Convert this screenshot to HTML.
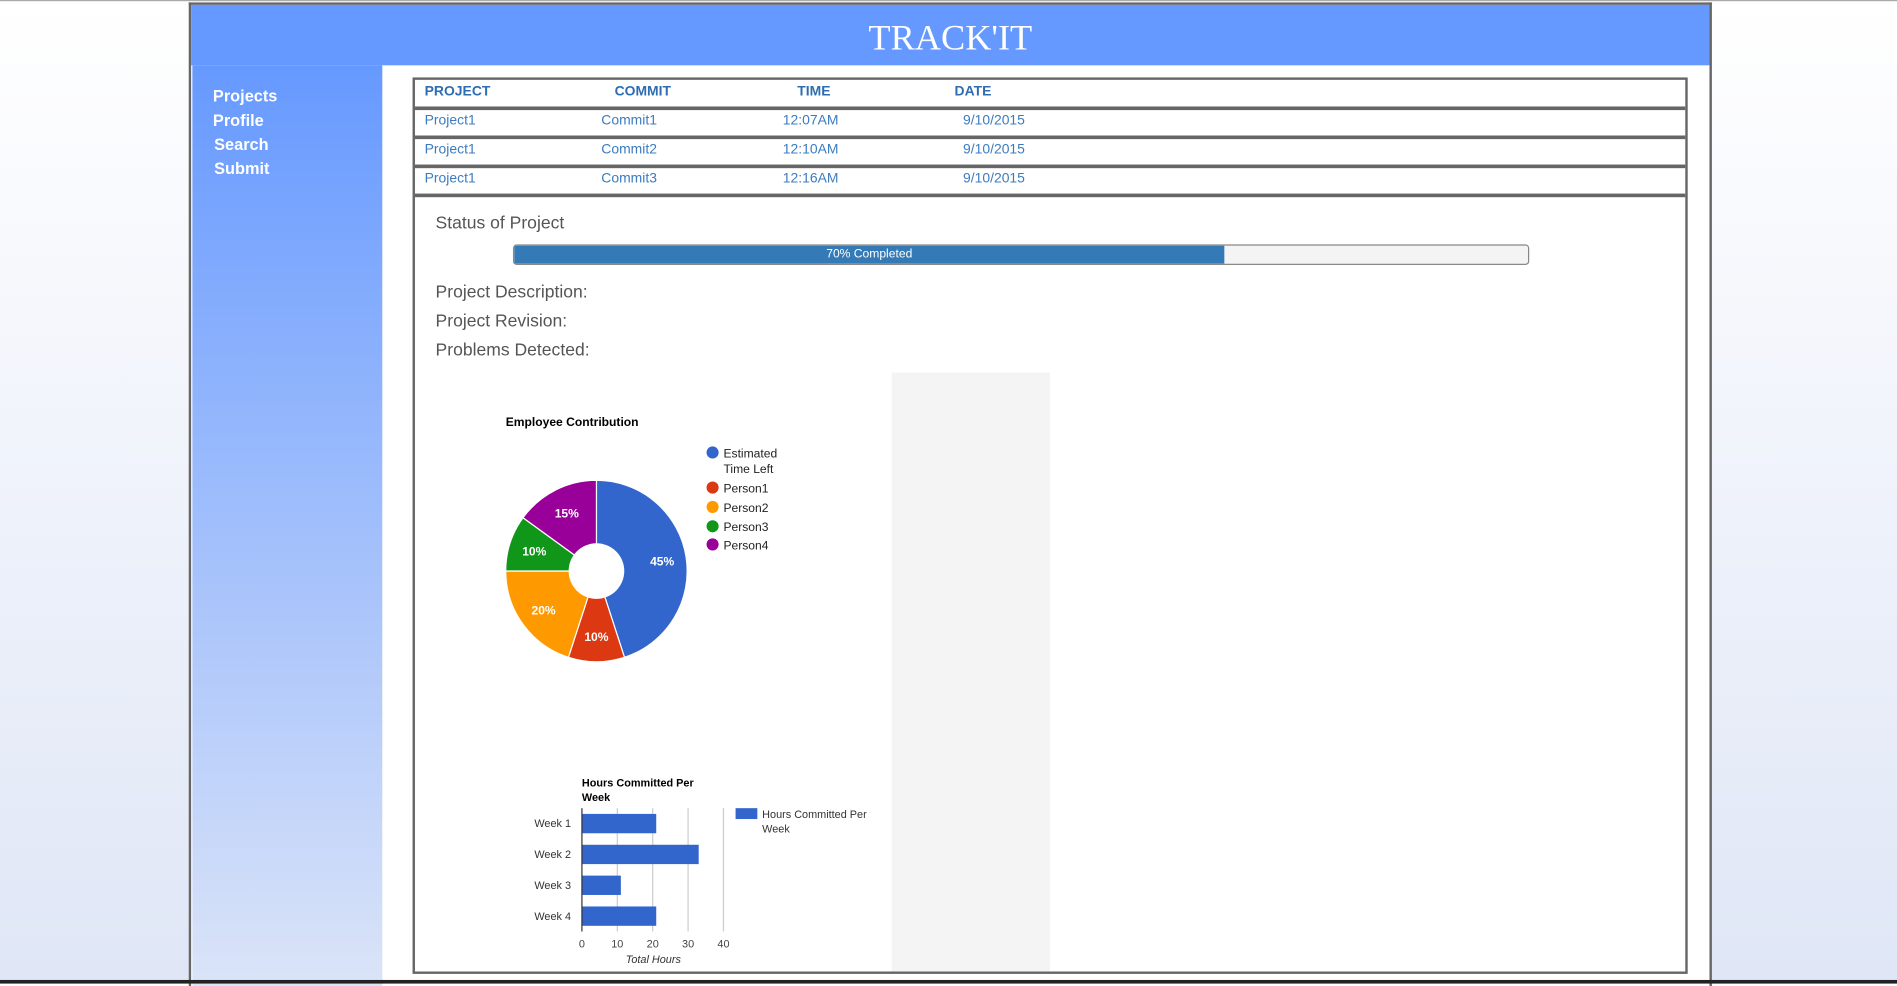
<!DOCTYPE html>
<html><head><meta charset="utf-8">
<style>
html,body{margin:0;padding:0;width:1897px;height:983px;overflow:hidden;background:#fff;font-family:"Liberation Sans",Arial,sans-serif}
#wrap{position:absolute;left:0;top:0;width:1568px;height:813px;transform:scale(1.20982);transform-origin:0 0;background:linear-gradient(#ffffff,#dfe6f6)}
.abs{position:absolute}
.nav a{position:absolute;left:17px;color:#fff;font-weight:bold;font-size:13.5px;text-decoration:none}
.th{position:absolute;top:4px;font-size:11.5px;font-weight:bold;color:#2e6db0}
.td{position:absolute;font-size:11.5px;color:#3b7cc0}
.row{position:absolute;left:0;width:100%;height:21px;border-top:3px solid #666}
.lbl{position:absolute;left:17px;font-size:14.5px;color:#555}
</style></head><body>
<div id="wrap">
<div class="abs" style="left:0;top:0;width:1568px;height:1px;background:#aaa"></div>
<div class="abs" style="left:156px;top:2px;width:1255px;height:811px;border:2px solid #666;border-bottom:none;background:#fff">
  <div class="abs" style="left:0;top:0;width:1255px;height:50px;background:#6699ff">
    <div style="position:absolute;left:0;width:1255px;top:11px;text-align:center;font-family:'Liberation Serif',serif;font-size:30px;color:#fff">TRACK'IT</div>
  </div>
  <div class="abs nav" style="left:1px;top:50px;width:157px;height:761px;background:linear-gradient(#6699ff,#dbe4f8)">
    <a style="top:18px" href="#">Projects</a>
    <a style="top:38px" href="#">Profile</a>
    <a style="top:58px;left:18px" href="#">Search</a>
    <a style="top:78px;left:18px" href="#">Submit</a>
  </div>
  <div class="abs" style="left:183px;top:60px;width:1050px;height:737px;border:2px solid #666">
    <div class="abs" style="left:0;top:0;width:1050px;height:96px">
      <div class="th" style="left:8px">PROJECT</div>
      <div class="th" style="left:165px">COMMIT</div>
      <div class="th" style="left:316px">TIME</div>
      <div class="th" style="left:446px">DATE</div>
      <div class="row" style="top:22px"><span class="td" style="left:8px;top:3px">Project1</span><span class="td" style="left:154px;top:3px">Commit1</span><span class="td" style="left:304px;top:3px">12:07AM</span><span class="td" style="left:453px;top:3px">9/10/2015</span></div>
      <div class="row" style="top:46px"><span class="td" style="left:8px;top:3px">Project1</span><span class="td" style="left:154px;top:3px">Commit2</span><span class="td" style="left:304px;top:3px">12:10AM</span><span class="td" style="left:453px;top:3px">9/10/2015</span></div>
      <div class="row" style="top:70px"><span class="td" style="left:8px;top:3px">Project1</span><span class="td" style="left:154px;top:3px">Commit3</span><span class="td" style="left:304px;top:3px">12:16AM</span><span class="td" style="left:453px;top:3px">9/10/2015</span></div>
      <div class="row" style="top:94px;height:0"></div>
    </div>
    <div class="lbl" style="top:111px">Status of Project</div>
    <div class="abs" style="left:81px;top:136px;width:838px;height:15px;border:1px solid #888;border-radius:3px;background:#f4f4f4;overflow:hidden">
      <div style="width:587px;height:15px;background:#337ab7;color:#fff;font-size:10px;line-height:15px;text-align:center">70% Completed</div>
    </div>
    <div class="lbl" style="top:168px">Project Description:</div>
    <div class="lbl" style="top:192px">Project Revision:</div>
    <div class="lbl" style="top:216px">Problems Detected:</div>
    <div class="abs" style="left:394px;top:242px;width:131px;height:495px;background:#f4f4f4"></div>
  </div>
</div>
<div class="abs" style="left:0;top:810px;width:1568px;height:3px;background:#222"></div>
<svg id="charts" class="abs" style="left:0;top:0" width="1568" height="813"></svg>
</div>
<script>
const pieLabels=["Estimated Time Left","Person1","Person2","Person3","Person4"];
const pieValues=[45,10,20,10,15];
const pieColors=["#3366cc","#dc3912","#ff9900","#109618","#990099"];
const weeks=["Week 1","Week 2","Week 3","Week 4"];
const hours=[21,33,11,21];
const hourTicks=[0,10,20,30,40];
const NS="http://www.w3.org/2000/svg";
const svg=document.getElementById('charts');
function mk(t,a,txt){const e=document.createElementNS(NS,t);for(const k in a)e.setAttribute(k,a[k]);if(txt!=null)e.textContent=txt;svg.appendChild(e);return e;}
let t=mk('text',{x:418,y:352,'font-size':10,'font-weight':'bold',fill:'#000','font-family':'Liberation Sans'},'Employee Contribution');


const cx=493,cy=472,R=75,r=23;
const total=pieValues.reduce((a,b)=>a+b,0);
let ang=0;
pieValues.forEach((v,i)=>{
  const a0=ang,a1=ang+v/total*2*Math.PI;ang=a1;
  const p=a=>[cx+R*Math.sin(a),cy-R*Math.cos(a)];
  const [x0,y0]=p(a0),[x1,y1]=p(a1);
  const large=(a1-a0)>Math.PI?1:0;
  const s=mk('path',{d:`M${cx},${cy}L${x0},${y0}A${R},${R} 0 ${large} 1 ${x1},${y1}Z`,fill:pieColors[i],stroke:'#fff','stroke-width':1});
  
  
  const m=(a0+a1)/2,lr=(v/total<0.3)?R*0.72:(R+r)/2+6;
  const l=mk('text',{x:cx+lr*Math.sin(m),y:cy-lr*Math.cos(m)+4,'text-anchor':'middle','font-size':10,'font-weight':'bold',fill:'#fff','font-family':'Liberation Sans'},Math.round(v/total*100)+'%');
  
  
});
const hole=mk('circle',{cx:cx,cy:cy,r:r,fill:'#fff'});


const legY=[374,403,419,435,450];
pieLabels.forEach((n,i)=>{
  const c=mk('circle',{cx:589,cy:legY[i],r:5,fill:pieColors[i]});
  
  
  if(i===0){
    const a=mk('text',{x:598,y:378,'font-size':10,fill:'#222','font-family':'Liberation Sans'},'Estimated');
    
    
    const b=mk('text',{x:598,y:391,'font-size':10,fill:'#222','font-family':'Liberation Sans'},'Time Left');
    
    
  } else {
    const a=mk('text',{x:598,y:legY[i]+4,'font-size':10,fill:'#222','font-family':'Liberation Sans'},n);
    
    
  }
});
const x0=481,xmax=40,pw=117,top0=668,plotH=102;
const xs=v=>x0+v/xmax*pw;
let bt=mk('text',{x:481,y:650,'font-size':9,'font-weight':'bold',fill:'#000','font-family':'Liberation Sans'},'Hours Committed Per');


bt=mk('text',{x:481,y:662,'font-size':9,'font-weight':'bold',fill:'#000','font-family':'Liberation Sans'},'Week');


hourTicks.forEach(v=>{
  if(v>0){const g=mk('line',{x1:xs(v),x2:xs(v),y1:top0,y2:top0+plotH,stroke:'#ccc','stroke-width':1});
  
  }
  const tl=mk('text',{x:xs(v),y:783,'text-anchor':'middle','font-size':9,fill:'#444','font-family':'Liberation Sans'},v);
  
  
});
const band=plotH/weeks.length;
weeks.forEach((w,i)=>{
  const yc=top0+band*(i+0.5);
  const b=mk('rect',{x:x0,y:yc-8,width:xs(hours[i])-x0,height:16,fill:'#3366cc'});
  
  
  const l=mk('text',{x:472,y:yc+3,'text-anchor':'end','font-size':9,fill:'#333','font-family':'Liberation Sans'},w);
  
  
});
const ax=mk('line',{x1:x0,x2:x0,y1:top0,y2:top0+plotH,stroke:'#333','stroke-width':1});


const xt=mk('text',{x:540,y:796,'text-anchor':'middle','font-size':9,'font-style':'italic',fill:'#333','font-family':'Liberation Sans'},'Total Hours');


const lr=mk('rect',{x:608,y:668,width:18,height:9,fill:'#3366cc'});


let lt=mk('text',{x:630,y:676,'font-size':9,fill:'#333','font-family':'Liberation Sans'},'Hours Committed Per');


lt=mk('text',{x:630,y:688,'font-size':9,fill:'#333','font-family':'Liberation Sans'},'Week');


</script>
</body></html>
